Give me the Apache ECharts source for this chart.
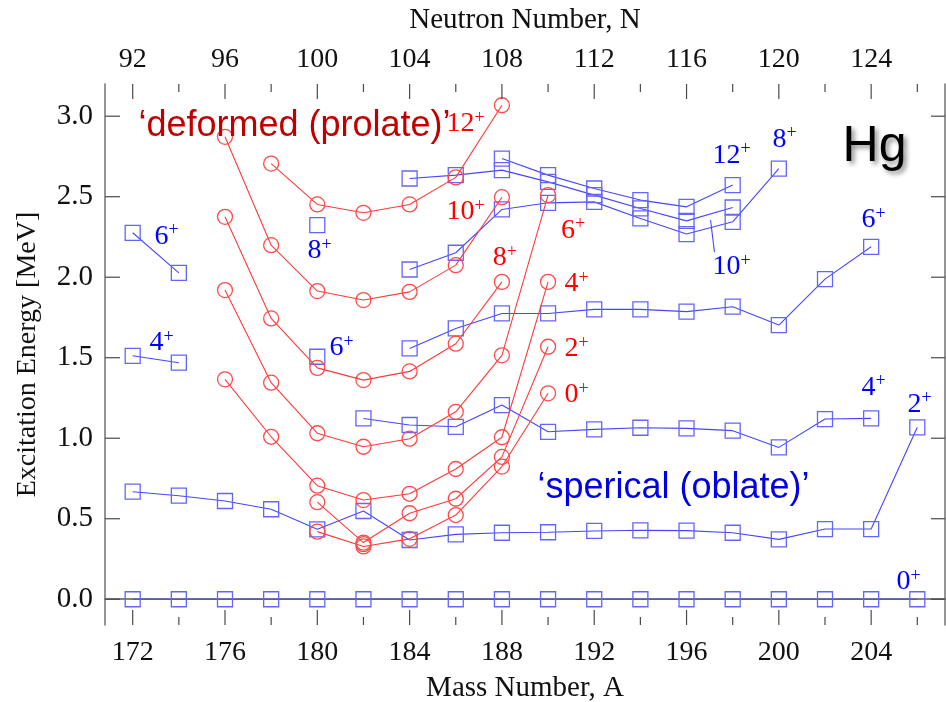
<!DOCTYPE html>
<html>
<head>
<meta charset="utf-8">
<title>Hg excitation energies</title>
<script src="https://cdn.jsdelivr.net/npm/echarts@6/dist/echarts.min.js"></script>
<style>
  html, body { margin: 0; padding: 0; background: #fff; }
  #chart { width: 946px; height: 702px; }
</style>
</head>
<body>
<div id="chart"></div>
<script>
// ---- Axis ticks --------------------------------------------------------
const HG_Z = 80;  // proton number of mercury: N = A - Z
const massMajor = [172, 176, 180, 184, 188, 192, 196, 200, 204];
const massMinor = [174, 178, 182, 186, 190, 194, 198, 202, 206];
const neutronMajor = [92, 96, 100, 104, 108, 112, 116, 120, 124];
const neutronMinor = [94, 98, 102, 106, 110, 114, 118, 122, 126];
const energyTicks = [0, 0.5, 1.0, 1.5, 2.0, 2.5, 3.0];

// ---- Prolate (deformed) intruder band, levels by spin [MeV] -----------
const proA0 = [180, 182, 184, 186, 188, 190];
const proE0 = [0.420, 0.328, 0.375, 0.523, 0.824, 1.279];
const proA2 = [180, 182, 184, 186, 188, 190];
const proE2 = [0.603, 0.352, 0.534, 0.624, 0.884, 1.568];
const proA4 = [176, 178, 180, 182, 184, 186, 188, 190];
const proE4 = [1.366, 1.009, 0.705, 0.616, 0.655, 0.809, 1.006, 1.971];
const proA6 = [176, 178, 180, 182, 184, 186, 188, 190];
const proE6 = [1.920, 1.345, 1.031, 0.947, 0.997, 1.164, 1.515, 2.510];
const proA8 = [176, 178, 180, 182, 184, 186, 188];
const proE8 = [2.375, 1.744, 1.437, 1.361, 1.415, 1.587, 1.971];
const proA10 = [176, 178, 180, 182, 184, 186, 188];
const proE10 = [2.872, 2.199, 1.914, 1.858, 1.909, 2.075, 2.497];
const proA12 = [178, 180, 182, 184, 186, 188];
const proE12 = [2.706, 2.452, 2.400, 2.452, 2.620, 3.068];
const proExtraA = [182];
const proExtraE = [0.342];

// ---- Spherical / oblate band, levels by spin [MeV] ---------------------
const sphA0 = [172, 174, 176, 178, 180, 182, 184, 186, 188, 190, 192, 194, 196, 198, 200, 202, 204, 206];
const sphE0 = [0, 0, 0, 0, 0, 0, 0, 0, 0, 0, 0, 0, 0, 0, 0, 0, 0, 0];
const sphA2 = [172, 174, 176, 178, 180, 182, 184, 186, 188, 190, 192, 194, 196, 198, 200, 202, 204, 206];
const sphE2 = [0.668, 0.643, 0.610, 0.559, 0.434, 0.548, 0.368, 0.403, 0.413, 0.416, 0.424, 0.428, 0.426, 0.413, 0.372, 0.436, 0.436, 1.068];
const sphA4a = [172, 174];
const sphE4a = [1.512, 1.469];
const sphA4b = [182, 184, 186, 188, 190, 192, 194, 196, 198, 200, 202, 204];
const sphE4b = [1.123, 1.082, 1.071, 1.206, 1.040, 1.055, 1.065, 1.061, 1.047, 0.943, 1.119, 1.123];
const sphA6a = [172, 174];
const sphE6a = [2.276, 2.027];
const sphA6b = [184, 186, 188, 190, 192, 194, 196, 198, 200, 202, 204];
const sphE6b = [1.558, 1.682, 1.775, 1.775, 1.800, 1.800, 1.786, 1.817, 1.703, 1.988, 2.189];
const sphA8 = [184, 186, 188, 190, 192, 194, 196, 198, 200];
const sphE8 = [2.048, 2.152, 2.421, 2.462, 2.468, 2.365, 2.268, 2.344, 2.675];
const sphA10 = [184, 186, 188, 190, 192, 194, 196, 198];
const sphE10 = [2.613, 2.634, 2.665, 2.592, 2.510, 2.427, 2.350, 2.433];
const sphA12 = [188, 190, 192, 194, 196, 198];
const sphE12 = [2.737, 2.634, 2.551, 2.479, 2.437, 2.572];
const sph180A = [180, 180];
const sph180E = [1.506, 2.323];

// ---- Spin labels: [A, E, spin] -----------------------------------------
const redSpinLabels = [
  [185.6, 2.953, '12'], [185.6, 2.406, '10'], [187.6, 2.119, '8'],
  [190.56, 2.292, '6'], [190.71, 1.957, '4'], [190.71, 1.554, '2'], [190.71, 1.268, '0']
];
const blueSpinLabels = [
  [172.94, 2.255, '6'], [172.73, 1.591, '4'], [179.57, 2.162, '8'], [180.53, 1.560, '6'],
  [197.12, 2.758, '12'], [199.72, 2.857, '8'], [197.12, 2.063, '10'],
  [203.58, 2.355, '6'], [203.58, 1.317, '4'], [205.58, 1.208, '2'], [205.10, 0.107, '0']
];
const arrow10 = [[197.21, 2.156], [197.04, 2.355]];

// ---- Free text annotations: [A, E, text] -------------------------------
const deformedNote = [172.25, 2.938, '\u2018deformed (prolate)\u2019'];
const sphericalNote = [189.54, 0.691, '\u2018sperical (oblate)\u2019'];
const elementNote = [202.76, 2.808, 'Hg'];

const A_MIN = 170.8, A_MAX = 207.2;
const E_MIN = -0.16, E_MAX = 3.2;

const SERIF = '"Liberation Serif", "DejaVu Serif", serif';
const SANS = '"Liberation Sans", Arial, sans-serif';
const RED_LINE = '#ff3a3a';
const RED_MARK = '#ff4a4a';
const BLUE_LINE = '#4646ff';
const BLUE_MARK = '#6464ff';

function pairs(xs, ys) {
  return xs.map((x, i) => [x, ys[i]]);
}

function prolate(xs, ys) {
  return {
    type: 'line', data: pairs(xs, ys), symbol: 'circle', symbolSize: 15,
    showAllSymbol: true, silent: true, z: 3,
    itemStyle: { color: 'rgba(0,0,0,0)', borderColor: RED_MARK, borderWidth: 1.3 },
    lineStyle: { color: RED_LINE, width: 1.1 }
  };
}

function spherical(xs, ys, withLine) {
  return {
    type: 'line', data: pairs(xs, ys), symbol: 'rect', symbolSize: 15,
    showAllSymbol: true, silent: true, z: 2,
    itemStyle: { color: 'rgba(0,0,0,0)', borderColor: BLUE_MARK, borderWidth: 1.3 },
    lineStyle: { color: BLUE_LINE, width: withLine === false ? 0 : 1.1 }
  };
}

function spinRich(color) {
  return {
    n: { fontFamily: SERIF, fontSize: 28, color: color, lineHeight: 30 },
    s: { fontFamily: SERIF, fontSize: 18, color: color, lineHeight: 16, verticalAlign: 'top' }
  };
}

function labelSeries(list, color) {
  return {
    type: 'scatter', silent: true, z: 6, symbolSize: 0,
    itemStyle: { color: 'rgba(0,0,0,0)', opacity: 1 },
    data: list.map(d => ({
      value: [d[0], d[1]],
      label: {
        show: true, position: 'right', distance: 0, opacity: 1,
        formatter: '{n|' + d[2] + '}{s|+}', rich: spinRich(color)
      }
    }))
  };
}

function noteItem(note, style) {
  return {
    value: [note[0], note[1]],
    label: Object.assign({ show: true, position: 'right', distance: 0, opacity: 1, formatter: note[2] }, style)
  };
}

const sphere10 = spherical(sphA10, sphE10);
sphere10.markLine = {
  silent: true, symbol: ['none', 'arrow'], symbolSize: [0, 9],
  lineStyle: { color: BLUE_LINE, width: 1.1, type: 'solid' },
  label: { show: false },
  data: [[{ coord: arrow10[0] }, { coord: arrow10[1] }]]
};

const axisColor = '#7a7a7a';

const option = {
  animation: false,
  backgroundColor: '#ffffff',
  grid: { left: 105, right: 1, top: 84, bottom: 77, containLabel: false, outerBoundsMode: 'none' },
  xAxis: [
    {
      type: 'value', min: A_MIN, max: A_MAX, position: 'bottom',
      splitLine: { show: false },
      name: 'Mass Number, A', nameLocation: 'middle', nameGap: 49,
      nameTextStyle: { fontFamily: SERIF, fontSize: 29, color: '#111' },
      axisLine: { show: true, lineStyle: { color: axisColor, width: 1.6 } },
      axisTick: { show: false },
      axisLabel: { show: true, customValues: massMajor, margin: 14, fontFamily: SERIF, fontSize: 28, color: '#111' }
    },
    {
      type: 'value', min: A_MIN - HG_Z, max: A_MAX - HG_Z, position: 'top',
      splitLine: { show: false },
      name: 'Neutron Number, N', nameLocation: 'middle', nameGap: 49,
      nameTextStyle: { fontFamily: SERIF, fontSize: 29, color: '#111' },
      axisLine: { show: true, lineStyle: { color: axisColor, width: 1.6 } },
      axisTick: { show: false },
      axisLabel: { show: true, customValues: neutronMajor, margin: 10, fontFamily: SERIF, fontSize: 28, color: '#111' }
    }
  ],
  yAxis: [
    {
      type: 'value', min: E_MIN, max: E_MAX, position: 'left',
      name: 'Excitation Energy [MeV]', nameLocation: 'middle', nameGap: 63,
      nameTextStyle: { fontFamily: SERIF, fontSize: 28, color: '#111' },
      splitLine: { show: false },
      axisLine: { show: true, lineStyle: { color: axisColor, width: 1.6 } },
      axisTick: { show: false },
      axisLabel: {
        show: true, customValues: energyTicks, margin: 12,
        fontFamily: SERIF, fontSize: 29, color: '#111',
        formatter: v => v.toFixed(1)
      }
    },
    {
      type: 'value', min: E_MIN, max: E_MAX, position: 'right',
      splitLine: { show: false },
      axisLine: { show: true, lineStyle: { color: axisColor, width: 1.6 } },
      axisTick: { show: false },
      axisLabel: { show: false }
    }
  ],
  series: [
    spherical(sphA0, sphE0),
    spherical(sphA2, sphE2),
    spherical(sphA4a, sphE4a),
    spherical(sphA4b, sphE4b),
    spherical(sphA6a, sphE6a),
    spherical(sphA6b, sphE6b),
    spherical(sphA8, sphE8),
    sphere10,
    spherical(sphA12, sphE12),
    spherical(sph180A, sph180E, false),
    prolate(proA0, proE0),
    prolate(proA2, proE2),
    prolate(proA4, proE4),
    prolate(proA6, proE6),
    prolate(proA8, proE8),
    prolate(proA10, proE10),
    prolate(proA12, proE12),
    prolate(proExtraA, proExtraE),
    labelSeries(redSpinLabels, '#ff0000'),
    labelSeries(blueSpinLabels, '#0000ff'),
    {
      type: 'scatter', silent: true, z: 7, symbolSize: 0,
      itemStyle: { color: 'rgba(0,0,0,0)', opacity: 1 },
      data: [
        noteItem(deformedNote, { fontFamily: SANS, fontSize: 36, color: '#c00000' }),
        noteItem(sphericalNote, { fontFamily: SANS, fontSize: 36, color: '#0000e6' }),
        noteItem(elementNote, {
          fontFamily: SANS, fontSize: 50, color: '#000',
          textShadowColor: 'rgba(0,0,0,0.45)', textShadowBlur: 5,
          textShadowOffsetX: 3, textShadowOffsetY: 3
        })
      ]
    }
  ]
};

const chart = echarts.init(document.getElementById('chart'), null, { renderer: 'canvas' });
chart.setOption(option);

// Inward tick marks on all four sides, placed through the grid's own scales.
function toPx(a, e) {
  return chart.convertToPixel({ gridIndex: 0 }, [a, e]);
}
const tickElements = [];
function addTick(x1, y1, x2, y2) {
  tickElements.push({
    type: 'line', silent: true, z: 50,
    shape: { x1: x1, y1: y1, x2: x2, y2: y2 },
    style: { stroke: '#4a4a4a', lineWidth: 1.2 }
  });
}
function massTick(a, len) {
  const b = toPx(a, E_MIN), t = toPx(a, E_MAX);
  addTick(b[0], b[1], b[0], b[1] - len);
  addTick(t[0], t[1], t[0], t[1] + len);
}
massMajor.forEach(a => massTick(a, 15));
massMinor.forEach(a => massTick(a, 8));
// top-axis ticks sit at the neutron numbers, which coincide with the mass ticks
neutronMajor.forEach(n => { if (massMajor.indexOf(n + HG_Z) < 0) massTick(n + HG_Z, 15); });
neutronMinor.forEach(n => { if (massMinor.indexOf(n + HG_Z) < 0) massTick(n + HG_Z, 8); });
energyTicks.forEach(e => {
  const l = toPx(A_MIN, e), r = toPx(A_MAX, e);
  addTick(l[0], l[1], l[0] + 15, l[1]);
  addTick(r[0], r[1], r[0] - 14, r[1]);
});
chart.setOption({ graphic: { elements: tickElements } });
</script>
</body>
</html>
